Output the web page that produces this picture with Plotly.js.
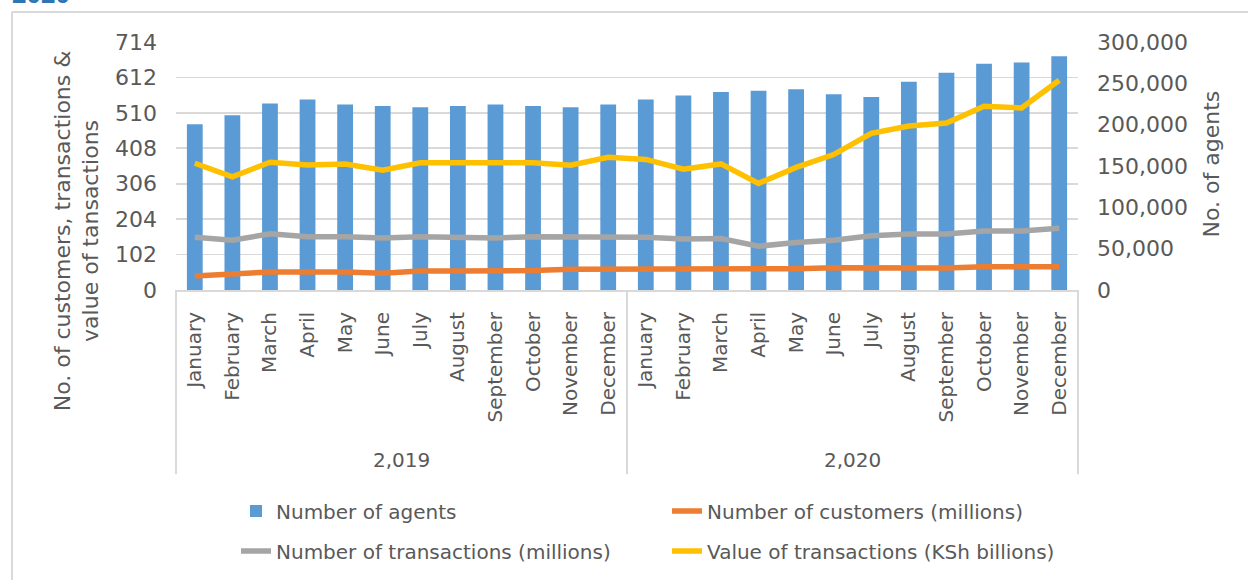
<!DOCTYPE html>
<html>
<head>
<meta charset="utf-8">
<script src="https://cdn.plot.ly/plotly-3.0.1.min.js"></script>
<style>
html,body{margin:0;padding:0;background:#fff;}
#chart{width:1248px;height:580px;}
</style>
</head>
<body>
<div id="chart"></div>
<script>
var years = ['2,019', '2,020'];
var months = ['January','February','March','April','May','June','July','August','September','October','November','December'];
var agents = [200600, 211400, 225500, 230300, 224300, 222700, 221100, 222700, 224300, 222700, 221100, 224300,
              230300, 235200, 239600, 241100, 242800, 236700, 233500, 252000, 262900, 273700, 275300, 282900];
var customers = [40, 46, 52, 52, 52, 48, 55, 55, 55, 56, 60, 60,
                 60, 60, 60, 60, 61, 64, 64, 64, 63, 67, 67, 67];
var transactions = [152, 143, 162, 153, 153, 150, 153, 150, 150, 153, 153, 153,
                    152, 147, 148, 126, 137, 143, 156, 161, 161, 170, 170, 178];
var valueTx = [365, 326, 368, 360, 363, 345, 366, 366, 366, 366, 359, 382,
               376, 348, 363, 307, 353, 390, 451, 472, 481, 529, 524, 604];
var leftTicks = [0, 102, 204, 306, 408, 510, 612, 714];
var rightTicks = [0, 50000, 100000, 150000, 200000, 250000, 300000];

// category keys: one per (year, month); tick text shows the month only
var xKeys = [], xText = [];
years.forEach(function(y){ months.forEach(function(m){ xKeys.push(y + ' ' + m); xText.push(m); }); });

var FONT = 'DejaVu Sans, Liberation Sans, sans-serif';
var TXT = '#595959';
var GRID = '#D9D9D9';

var traces = [
  {type:'bar', name:'Number of agents', x:xKeys, y:agents, yaxis:'y', marker:{color:'#5B9BD5'}, legend:'legend'},
  {type:'scatter', mode:'lines', name:'Number of customers (millions)', x:xKeys, y:customers, yaxis:'y2', line:{color:'#ED7D31', width:5.5}, legend:'legend'},
  {type:'scatter', mode:'lines', name:'Number of transactions (millions)', x:xKeys, y:transactions, yaxis:'y2', line:{color:'#A5A5A5', width:5.5}, legend:'legend2'},
  {type:'scatter', mode:'lines', name:'Value of transactions (KSh billions)', x:xKeys, y:valueTx, yaxis:'y2', line:{color:'#FFC000', width:5.5}, legend:'legend2'}
];

function px2x(p){ return (p-176)/902; }
function py2y(p){ return (291-p)/249; }

var annotations = [
  {text:'No. of customers, transactions &<br>value of tansactions', textangle:-90,
   xref:'paper', yref:'paper', x:px2x(77), y:py2y(232), xanchor:'center', yanchor:'middle',
   showarrow:false, font:{size:22, color:TXT}},
  {text:'No. of agents', textangle:-90,
   xref:'paper', yref:'paper', x:px2x(1212), y:py2y(165), xanchor:'center', yanchor:'middle',
   showarrow:false, font:{size:22, color:TXT}},
  {text:'<b>2020</b>', xref:'paper', yref:'paper', x:px2x(10), y:py2y(11), xanchor:'left', yanchor:'bottom',
   showarrow:false, font:{size:26, color:'#2E75B6', family:'Liberation Sans, Arial, sans-serif'}}
];
var shapes = [
  {type:'line', xref:'paper', yref:'paper', x0:px2x(12), x1:px2x(12), y0:py2y(12), y1:py2y(600), line:{color:GRID, width:2}},
  {type:'line', xref:'paper', yref:'paper', x0:px2x(12), x1:px2x(1260), y0:py2y(12), y1:py2y(12), line:{color:GRID, width:2}}
];
// year group labels and dividers
years.forEach(function(y, i){
  var n = years.length;
  annotations.push({text:y, xref:'paper', yref:'paper', x:(i + 0.5)/n, y:py2y(462),
    xanchor:'center', yanchor:'middle', showarrow:false, font:{size:20, color:TXT}});
});
for (var i = 0; i <= years.length; i++) {
  shapes.push({type:'line', xref:'paper', yref:'paper', x0:i/years.length, x1:i/years.length,
    y0:0, y1:py2y(476), line:{color:GRID, width:2}});
}

var layout = {
  width:1248, height:580,
  margin:{l:176, r:170, t:42, b:289, pad:0},
  paper_bgcolor:'#fff', plot_bgcolor:'#fff',
  font:{family:FONT, color:TXT, size:20},
  bargap:0.58,
  showlegend:true,
  xaxis:{
    type:'category', tickvals:xKeys, ticktext:xText,
    tickangle:-90,
    tickfont:{size:20, color:TXT},
    showline:true, linecolor:GRID, linewidth:2,
    ticks:'', showgrid:false,
    ticklabelstandoff:12
  },
  yaxis:{
    side:'right', range:[0,300000], tickvals:rightTicks, tickformat:',d',
    showgrid:false, zeroline:false, showline:false, ticks:'',
    tickfont:{size:22, color:TXT}, ticklabelstandoff:18
  },
  yaxis2:{
    side:'left', overlaying:'y', range:[0,714], tickvals:leftTicks,
    showgrid:true, gridcolor:GRID, gridwidth:1.6, zeroline:false, showline:false, ticks:'',
    tickfont:{size:22, color:TXT}, ticklabelstandoff:18
  },
  legend:{orientation:'h', x:px2x(236), y:py2y(511), xanchor:'left', yanchor:'middle',
          font:{size:20, color:TXT}, entrywidth:386, bgcolor:'rgba(0,0,0,0)', traceorder:'normal'},
  legend2:{orientation:'h', x:px2x(236), y:py2y(551), xanchor:'left', yanchor:'middle',
          font:{size:20, color:TXT}, entrywidth:386, bgcolor:'rgba(0,0,0,0)', traceorder:'normal'},
  annotations:annotations,
  shapes:shapes
};

Plotly.newPlot('chart', traces, layout, {displayModeBar:false, staticPlot:true});
</script>
</body>
</html>
